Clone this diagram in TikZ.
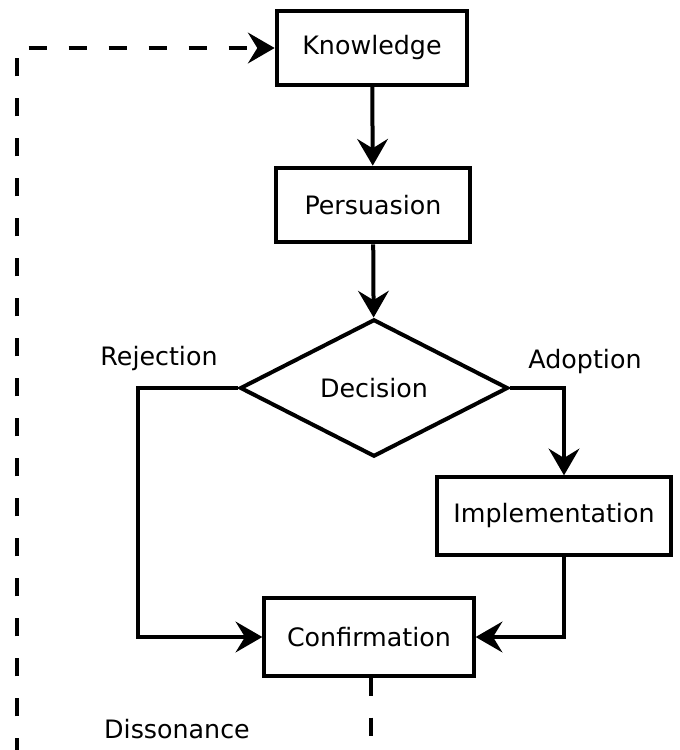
\documentclass[tikz,border=0pt]{standalone}
\usepackage{fontspec}
\setmainfont{DejaVu Sans}
\usetikzlibrary{arrows.meta}
\usetikzlibrary{shapes.geometric}
\tikzset{
    stage/.style={draw,line width=3pt,rectangle,inner sep=0pt,font=\fontsize{19}{22}\selectfont},
    choice/.style={draw,line width=3pt,diamond,inner sep=0pt,font=\fontsize{19}{22}\selectfont},
    flow/.style={line width=3pt,-{Stealth[length=20pt,width=23pt,inset=7pt]}},
    loop/.style={flow,dash pattern=on 13.5pt off 16.5pt},
    tag/.style={font=\fontsize{19}{22}\selectfont},
}

\begin{document}
\begin{tikzpicture}[x=0.75pt,y=-0.75pt]
\path[use as bounding box,clip] (0,0) rectangle (679,750);
\node[stage,minimum width=143pt,minimum height=55pt] (know) at (372,48) {Knowledge};
\node[stage,minimum width=145pt,minimum height=56pt] (pers) at (373,205) {Persuasion};
\node[choice,minimum width=201pt,minimum height=103pt] (dec) at (374,388) {Decision};
\node[stage,minimum width=175pt,minimum height=58pt] (impl) at (554,516) {Implementation};
\node[stage,minimum width=157pt,minimum height=58pt] (conf) at (369,637) {Confirmation};
\node[tag] (rej) at (159,359) {Rejection};
\node[tag] (adop) at (585,362) {Adoption};
\node[tag] (diss) at (177,729) {Dissonance};
\coordinate (c1) at (564,388);
\coordinate (c2) at (138,388);
\coordinate (b1) at (371,800);
\coordinate (b2) at (17,800);
\coordinate (b3) at (17,48);

\draw[flow] (know) -- (pers);
\draw[flow] (pers) -- (dec);
\draw[flow] (dec.east) -- (c1) -- (impl.north -| c1);
\draw[flow] (dec.west) -- (c2) |- (conf.west);
\draw[flow] (impl.south -| c1) |- (conf.east);
%feedback loop, leaves the page at the bottom
\draw[loop] (conf.south -| b1) -- (b1) -- (b2) -- (b3) -- (know.west);
\end{tikzpicture}
\end{document}
